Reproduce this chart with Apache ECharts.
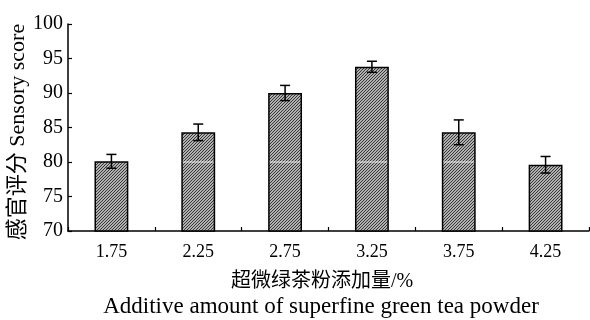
<!DOCTYPE html>
<html>
<head>
<meta charset="utf-8">
<script src="https://cdn.jsdelivr.net/npm/echarts@6/dist/echarts.min.js"></script>
<style>
html,body{margin:0;padding:0;background:#fff;}
#c{width:590px;height:320px;}
</style>
</head>
<body>
<div id="c"></div>
<script>
// ---- data ----
const categories = ['1.75', '2.25', '2.75', '3.25', '3.75', '4.25'];
const scores = [80.1, 84.3, 90.0, 93.8, 84.3, 79.6];
const errors = [1.0, 1.2, 1.1, 0.8, 1.8, 1.2];
const yTicks = [70, 75, 80, 85, 90, 95, 100];
const gridValue = 80; // faint white gridline visible through the bars
const yTitle = '感官评分 Sensory score';
const xTitleCn = '超微绿茶粉添加量/%';
const xTitleEn = 'Additive amount of superfine green tea powder';

// hatch pattern
function makeHatch() {
  const n = 3;
  const cv = document.createElement('canvas');
  cv.width = n; cv.height = n;
  const ctx = cv.getContext('2d');
  ctx.fillStyle = '#b0b0b0';
  ctx.fillRect(0, 0, n, n);
  ctx.fillStyle = '#383838';
  for (let i = 0; i < n; i++) ctx.fillRect(i, n - 1 - i, 1, 1);
  return cv;
}

const BAR_FRAC = 0.39;
const serif = '"Liberation Serif", "Times New Roman", "Noto Sans CJK SC", serif';
const chart = echarts.init(document.getElementById('c'));
chart.setOption({
  animation: false,
  backgroundColor: '#fff',
  grid: { left: 68, right: 1, top: 24, bottom: 89, containLabel: false },
  xAxis: {
    type: 'category',
    data: categories,
    boundaryGap: true,
    axisLine: { lineStyle: { color: '#000', width: 1.5 } },
    axisTick: { show: true, inside: true, length: 4, lineStyle: { color: '#000', width: 1.2 } },
    axisLabel: { color: '#000', fontFamily: serif, fontSize: 18, margin: 12 },
    splitLine: { show: false }
  },
  yAxis: {
    type: 'value',
    min: yTicks[0],
    max: yTicks[yTicks.length - 1],
    interval: 5,
    axisLine: { show: true, lineStyle: { color: '#000', width: 1.5 } },
    axisTick: { show: true, inside: true, length: 4, lineStyle: { color: '#000', width: 1.2 } },
    axisLabel: { color: '#000', fontFamily: serif, fontSize: 20, margin: 5 },
    splitLine: { show: false }
  },
  graphic: [
    { type: 'text', x: 18, y: 132, rotation: Math.PI / 2,
      style: { text: yTitle, font: '22px ' + serif, fill: '#000', textAlign: 'center', textVerticalAlign: 'middle' } },
    { type: 'text', x: 322, y: 282,
      style: { text: xTitleCn, font: '20px ' + serif, fill: '#000', textAlign: 'center', textVerticalAlign: 'middle' } },
    { type: 'text', x: 321, y: 307,
      style: { text: xTitleEn, font: '23px ' + serif, fill: '#000', textAlign: 'center', textVerticalAlign: 'middle' } }
  ],
  series: [
    {
      type: 'bar',
      data: scores,
      barWidth: (BAR_FRAC * 100) + '%',
      z: 2,
      itemStyle: {
        color: { image: makeHatch(), repeat: 'repeat' },
        borderColor: '#000',
        borderWidth: 1.5
      }
    },
    {
      // white gridline showing through bars that rise clearly above it
      type: 'custom',
      z: 3,
      silent: true,
      data: scores.map((v, i) => [i, gridValue, v]),
      renderItem: function (params, api) {
        if (api.value(2) < gridValue + 0.5) return null;
        const p = api.coord([api.value(0), api.value(1)]);
        const half = api.size([1, 0])[0] * BAR_FRAC / 2 - 1.5;
        return { type: 'line', shape: { x1: p[0] - half, y1: p[1], x2: p[0] + half, y2: p[1] },
                 style: { stroke: 'rgba(255,255,255,0.85)', lineWidth: 1 } };
      }
    },
    {
      type: 'custom',
      z: 5,
      data: scores.map((v, i) => [i, v, errors[i]]),
      renderItem: function (params, api) {
        const x = api.value(0), v = api.value(1), e = api.value(2);
        const hi = api.coord([x, v + e]);
        const lo = api.coord([x, v - e]);
        const cap = 5;
        const st = { stroke: '#000', lineWidth: 1.5 };
        return {
          type: 'group',
          children: [
            { type: 'line', shape: { x1: hi[0], y1: hi[1], x2: lo[0], y2: lo[1] }, style: st },
            { type: 'line', shape: { x1: hi[0] - cap, y1: hi[1], x2: hi[0] + cap, y2: hi[1] }, style: st },
            { type: 'line', shape: { x1: lo[0] - cap, y1: lo[1], x2: lo[0] + cap, y2: lo[1] }, style: st }
          ]
        };
      }
    }
  ]
});
</script>
</body>
</html>
